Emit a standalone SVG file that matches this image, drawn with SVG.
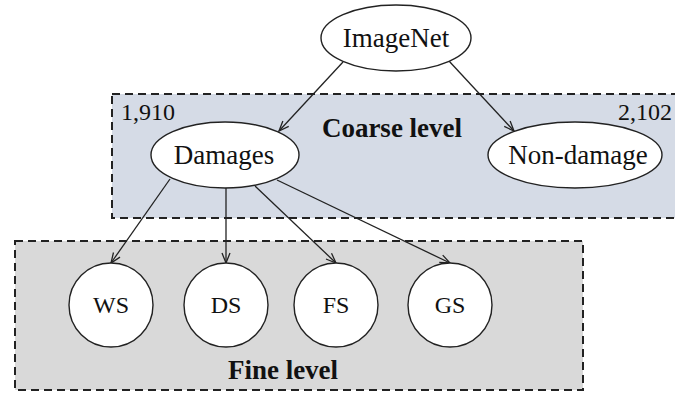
<svg xmlns="http://www.w3.org/2000/svg" width="675" height="394" viewBox="0 0 675 394">
  <style>
    .panel { stroke: #222; stroke-width: 2; stroke-dasharray: 8 5; }
    .coarse { fill: #d5dbe6; }
    .fine { fill: #d9d9d9; }
    .node { fill: #fff; stroke: #222; stroke-width: 1.4; }
    .lbl { font-family: "Liberation Serif", "Times New Roman", serif; fill: #111; text-anchor: middle; }
    .big { font-size: 27px; }
    .small { font-size: 24px; }
    .bold { font-weight: bold; }
    .count { font-family: "Liberation Serif", "Times New Roman", serif; font-size: 24px; fill: #111; }
    .edge { stroke: #222; stroke-width: 1.3; fill: none; marker-end: url(#arrow); }
  </style>
  <defs>
    <marker id="arrow" viewBox="0 0 12 10" refX="11" refY="5" markerWidth="12" markerHeight="10" markerUnits="userSpaceOnUse" orient="auto">
      <path d="M1,1 L11,5 L1,9" fill="none" stroke="#222" stroke-width="1.3"/>
    </marker>
  </defs>

  <!-- level panels -->
  <g id="coarse-level">
    <rect class="panel coarse" x="112" y="94" width="570" height="124"/>
    <text class="lbl big bold" x="392" y="137">Coarse level</text>
    <text class="count" x="121" y="120">1,910</text>
    <text class="count" x="618" y="120">2,102</text>
  </g>
  <g id="fine-level">
    <rect class="panel fine" x="15" y="241" width="568" height="149"/>
    <text class="lbl big bold" x="283" y="379">Fine level</text>
  </g>

  <!-- connectors -->
  <g id="edges">
    <line class="edge" x1="343" y1="62" x2="279" y2="131"/>
    <line class="edge" x1="449" y1="61" x2="514" y2="131"/>
    <line class="edge" x1="170" y1="179" x2="111" y2="263"/>
    <line class="edge" x1="226" y1="188" x2="226" y2="263"/>
    <line class="edge" x1="255" y1="186" x2="336" y2="263"/>
    <line class="edge" x1="277" y1="180" x2="450" y2="263"/>
  </g>

  <!-- nodes -->
  <g id="imagenet">
    <ellipse class="node" cx="396" cy="38" rx="75" ry="33"/>
    <text class="lbl big" x="396" y="47">ImageNet</text>
  </g>
  <g id="damages">
    <ellipse class="node" cx="225" cy="155" rx="74" ry="33"/>
    <text class="lbl big" x="224" y="164">Damages</text>
  </g>
  <g id="non-damage">
    <ellipse class="node" cx="575" cy="155" rx="87" ry="33"/>
    <text class="lbl big" x="578" y="164">Non-damage</text>
  </g>
  <g id="ws">
    <circle class="node" cx="111" cy="305" r="42"/>
    <text class="lbl small" x="111" y="313">WS</text>
  </g>
  <g id="ds">
    <circle class="node" cx="226" cy="305" r="42"/>
    <text class="lbl small" x="226" y="313">DS</text>
  </g>
  <g id="fs">
    <circle class="node" cx="336" cy="305" r="42"/>
    <text class="lbl small" x="336" y="313">FS</text>
  </g>
  <g id="gs">
    <circle class="node" cx="450" cy="305" r="42"/>
    <text class="lbl small" x="450" y="313">GS</text>
  </g>
</svg>
